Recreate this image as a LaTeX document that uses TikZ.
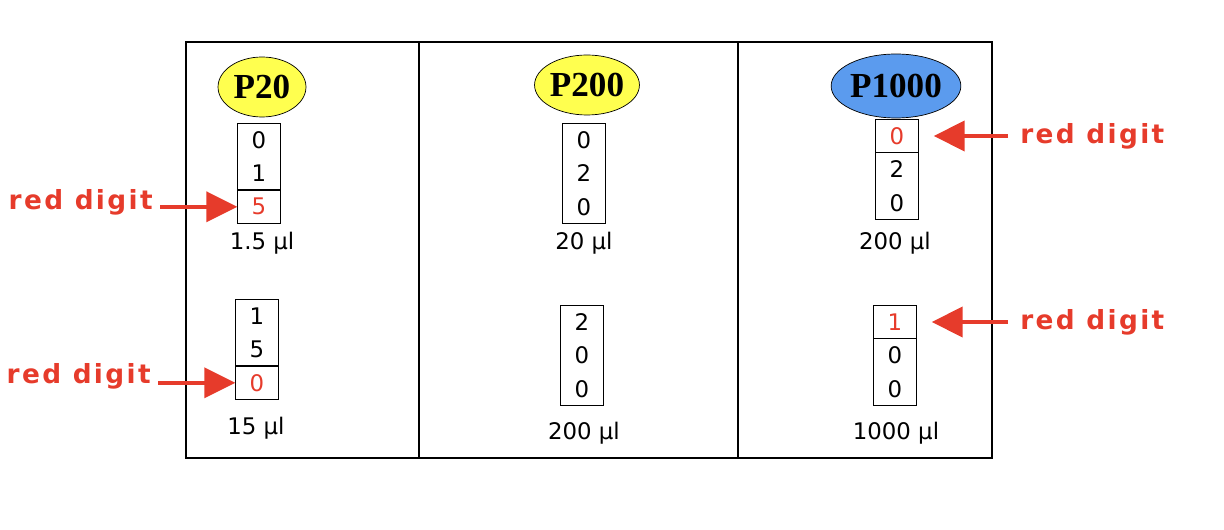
\documentclass[tikz,border=0pt]{standalone}
\usepackage{fontspec}
\setmainfont{DejaVu Sans}
\newfontfamily\penFont{Liberation Serif}
\newfontfamily\noteFont[LetterSpace=9]{DejaVu Sans}
\usetikzlibrary{arrows.meta, positioning, shapes.geometric}

\begin{document}
\begin{tikzpicture}[x=0.02cm, y=-0.02cm]
    % Define colours
    \definecolor{noteRed}{HTML}{E63B2B}
    \definecolor{penYellow}{HTML}{FFFF4F}
    \definecolor{penBlue}{HTML}{5B9BEE}

    \tikzset{
        pen/.style={ellipse, draw, thin, minimum width=1.76cm, minimum height=1.2cm, inner sep=0pt, font=\penFont\bfseries\fontsize{20}{21}\selectfont},
        digit/.style={minimum width=0.84cm, minimum height=0.64cm, inner sep=0pt, font=\fontsize{13}{14}\selectfont},
        volume/.style={font=\fontsize{13}{14}\selectfont},
        note/.style={text=noteRed, inner sep=0pt, font=\noteFont\bfseries\fontsize{15}{16}\selectfont},
        pointer/.style={draw=noteRed, line width=2.2pt, -{Triangle[length=0.62cm, width=0.6cm]}}
    }

    \useasboundingbox (0,0) rectangle (1224,530);

    % Draw frame and dividers
    \draw[line width=1pt] (186,42) rectangle (992,458);
    \draw[line width=1pt] (419,42) -- (419,458);
    \draw[line width=1pt] (738,42) -- (738,458);

    % Pipette names
    \node[pen, fill=penYellow] (p20) at (262,87) {P20};
    \node[pen, fill=penYellow] (p200) at (587,85) {P200};
    \node[pen, fill=penBlue, minimum width=2.16cm, minimum height=1.28cm] (p1000) at (896,86) {P1000};

    \begin{scope}[line width=0.8pt]
    % P20 counters
    \node[digit] (a1) at (259,140) {0};
    \node[digit, below=0pt of a1] (a2) {1};
    \node[digit, below=0pt of a2, text=noteRed] (a3) {5};
    \draw (a1.north west) rectangle (a3.south east);
    \draw (a3.north west) -- (a3.north east);
    \node[volume] (va) at (262,243) {1.5 µl};

    \node[digit] (b1) at (257,316) {1};
    \node[digit, below=0pt of b1] (b2) {5};
    \node[digit, below=0pt of b2, text=noteRed] (b3) {0};
    \draw (b1.north west) rectangle (b3.south east);
    \draw (b3.north west) -- (b3.north east);
    \node[volume] (vb) at (256,428) {15 µl};

    % P200 counters
    \node[digit] (c1) at (584,140) {0};
    \node[digit, below=0pt of c1] (c2) {2};
    \node[digit, below=0pt of c2] (c3) {0};
    \draw (c1.north west) rectangle (c3.south east);
    \node[volume] (vc) at (584,243) {20 µl};

    \node[digit] (d1) at (582,322) {2};
    \node[digit, below=0pt of d1] (d2) {0};
    \node[digit, below=0pt of d2] (d3) {0};
    \draw (d1.north west) rectangle (d3.south east);
    \node[volume] (vd) at (584,433) {200 µl};

    % P1000 counters
    \node[digit, text=noteRed] (e1) at (897,136) {0};
    \node[digit, below=0pt of e1] (e2) {2};
    \node[digit, below=0pt of e2] (e3) {0};
    \draw (e1.north west) rectangle (e3.south east);
    \draw (e1.south west) -- (e1.south east);
    \node[volume] (ve) at (895,243) {200 µl};

    \node[digit, text=noteRed] (f1) at (895,322) {1};
    \node[digit, below=0pt of f1] (f2) {0};
    \node[digit, below=0pt of f2] (f3) {0};
    \draw (f1.north west) rectangle (f3.south east);
    \draw (f1.south west) -- (f1.south east);
    \node[volume] (vf) at (896,433) {1000 µl};
    \end{scope}

    % Red digit notes
    \node[note, anchor=east] (n1) at (153,202) {red digit};
    \node[note, anchor=east] (n2) at (151,376) {red digit};
    \node[note, anchor=west] (n3) at (1020,136) {red digit};
    \node[note, anchor=west] (n4) at (1020,322) {red digit};

    \draw[pointer, shorten <=0.14cm] (n1.east |- a3.west) -- (a3.west);
    \draw[pointer, shorten <=0.14cm] (n2.east |- b3.west) -- (b3.west);
    \draw[pointer, shorten <=0.24cm, shorten >=0.3cm] (n3.west) -- (e1.east);
    \draw[pointer, shorten <=0.24cm, shorten >=0.3cm] (n4.west) -- (f1.east);

\end{tikzpicture}
\end{document}
